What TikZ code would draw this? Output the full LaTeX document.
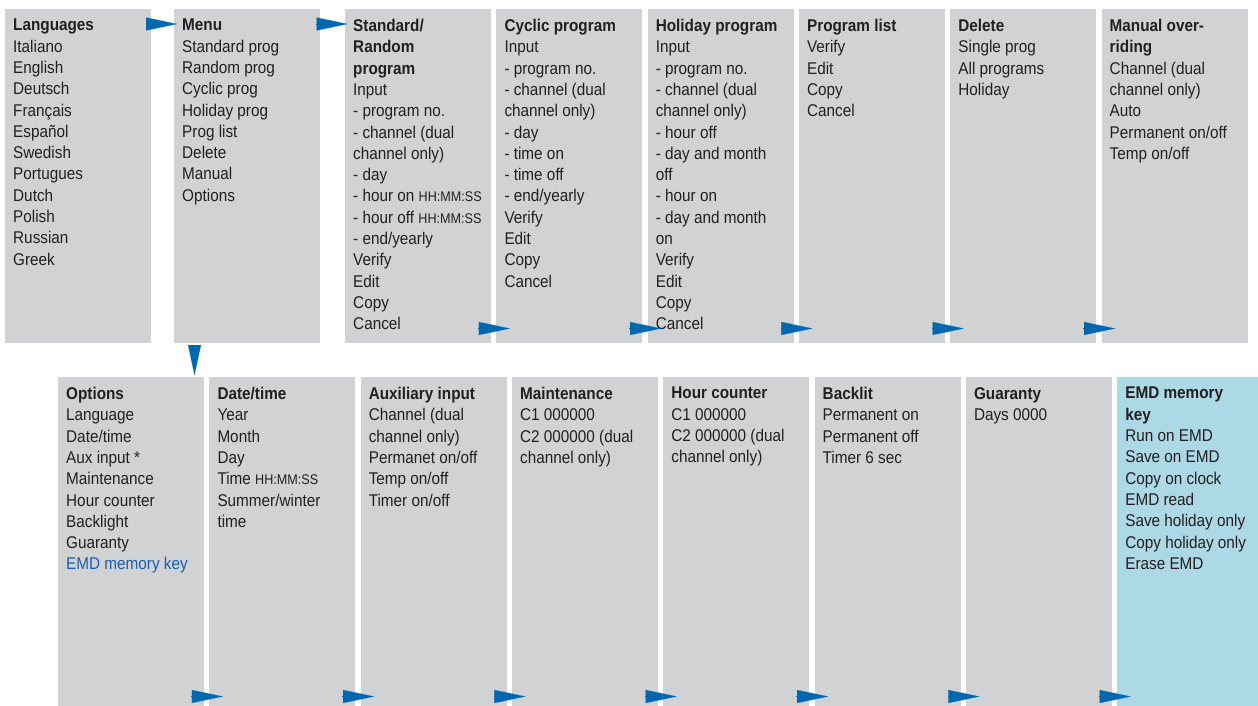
\documentclass[tikz,border=0pt]{standalone}
\usepackage{fontspec}
\setmainfont{Liberation Sans}[FakeStretch=0.9]
\usetikzlibrary{
  arrows.meta,
  positioning
}
\definecolor{ink}{HTML}{231F20}
\definecolor{panel}{HTML}{D1D2D4}
\definecolor{panelblue}{HTML}{ADD8E6}
\definecolor{pointerblue}{HTML}{0068B1}
\definecolor{linkblue}{HTML}{1A5DAD}
\newcommand{\hms}{{\fontsize{14}{21.3}\selectfont HH:MM:SS}}
\tikzset{
  menubox/.style={
    fill=panel,
    minimum width=146pt,
    minimum height=334pt,
    inner sep=0pt,
    outer sep=0pt,
    anchor=north west
  },
  keybox/.style={
    menubox,
    fill=panelblue
  },
  entry/.style={
    anchor=north west,
    inner sep=0pt,
    align=left,
    text=ink,
    font=\fontsize{17}{21.3}\selectfont,
    execute at begin node=\strut
  },
  pointer/.style={
    -{Triangle[length=#1, width=13pt]},
    line width=0.1pt,
    draw=pointerblue
  },
  pointer/.default=31pt
}

\begin{document}
\begin{tikzpicture}[x=1pt, y=-1pt]
  \useasboundingbox (0,0) rectangle (1258,706);
  \clip (0,0) rectangle (1258,706);

  % Main menu row.
  \node[menubox] (langs) at (5,9) {};
  \node[menubox, right=23pt of langs] (menu) {};
  \node[menubox, right=25pt of menu] (std) {};
  \node[menubox, right=5.3pt of std] (cyc) {};
  \node[menubox, right=5.3pt of cyc] (hol) {};
  \node[menubox, right=5.3pt of hol] (plist) {};
  \node[menubox, right=5.3pt of plist] (del) {};
  \node[menubox, right=5.3pt of del] (man) {};

  % Options row.
  \node[menubox] (opts) at (58,377) {};
  \node[menubox, right=5.3pt of opts] (date) {};
  \node[menubox, right=5.3pt of date] (aux) {};
  \node[menubox, right=5.3pt of aux] (maint) {};
  \node[menubox, right=5.3pt of maint] (hours) {};
  \node[menubox, right=5.3pt of hours] (back) {};
  \node[menubox, right=5.3pt of back] (guar) {};
  \node[keybox, right=5.3pt of guar] (emd) {};

  \node[entry] (langs-txt) at ([shift={(8,10)}]langs.north west) {
    \textbf{Languages}\\Italiano\\English\\Deutsch\\Français\\Español\\
    Swedish\\Portugues\\Dutch\\Polish\\Russian\\Greek};
  \node[entry] (menu-txt) at ([shift={(8,10)}]menu.north west) {
    \textbf{Menu}\\Standard prog\\Random prog\\Cyclic prog\\Holiday prog\\
    Prog list\\Delete\\Manual\\Options};
  \node[entry] (std-txt) at ([shift={(8,10)}]std.north west) {
    \textbf{Standard/}\\\textbf{Random}\\\textbf{program}\\Input\\
    - program no.\\- channel (dual\\channel only)\\- day\\
    - hour on \hms\\- hour off \hms\\- end/yearly\\Verify\\Edit\\Copy\\Cancel};
  \node[entry] (cyc-txt) at ([shift={(8,10)}]cyc.north west) {
    \textbf{Cyclic program}\\Input\\- program no.\\- channel (dual\\
    channel only)\\- day\\- time on\\- time off\\- end/yearly\\Verify\\
    Edit\\Copy\\Cancel};
  \node[entry] (hol-txt) at ([shift={(8,10)}]hol.north west) {
    \textbf{Holiday program}\\Input\\- program no.\\- channel (dual\\
    channel only)\\- hour off\\- day and month\\off\\- hour on\\
    - day and month\\on\\Verify\\Edit\\Copy\\Cancel};
  \node[entry] (plist-txt) at ([shift={(8,10)}]plist.north west) {
    \textbf{Program list}\\Verify\\Edit\\Copy\\Cancel};
  \node[entry] (del-txt) at ([shift={(8,10)}]del.north west) {
    \textbf{Delete}\\Single prog\\All programs\\Holiday};
  \node[entry] (man-txt) at ([shift={(8,10)}]man.north west) {
    \textbf{Manual over-}\\\textbf{riding}\\Channel (dual\\channel only)\\
    Auto\\Permanent on/off\\Temp on/off};

  \node[entry] (opts-txt) at ([shift={(8,10)}]opts.north west) {
    \textbf{Options}\\Language\\Date/time\\Aux input *\\Maintenance\\
    Hour counter\\Backlight\\Guaranty\\\textcolor{linkblue}{EMD memory key}};
  \node[entry] (date-txt) at ([shift={(8,10)}]date.north west) {
    \textbf{Date/time}\\Year\\Month\\Day\\Time \hms\\Summer/winter\\time};
  \node[entry] (aux-txt) at ([shift={(8,10)}]aux.north west) {
    \textbf{Auxiliary input}\\Channel (dual\\channel only)\\
    Permanet on/off\\Temp on/off\\Timer on/off};
  \node[entry] (maint-txt) at ([shift={(8,10)}]maint.north west) {
    \textbf{Maintenance}\\C1 000000\\C2 000000 (dual\\channel only)};
  \node[entry] (hours-txt) at ([shift={(8,10)}]hours.north west) {
    \textbf{Hour counter}\\C1 000000\\C2 000000 (dual\\channel only)};
  \node[entry] (back-txt) at ([shift={(8,10)}]back.north west) {
    \textbf{Backlit}\\Permanent on\\Permanent off\\Timer 6 sec};
  \node[entry] (guar-txt) at ([shift={(8,10)}]guar.north west) {
    \textbf{Guaranty}\\Days 0000};
  \node[entry] (emd-txt) at ([shift={(8,10)}]emd.north west) {
    \textbf{EMD memory}\\\textbf{key}\\Run on EMD\\Save on EMD\\
    Copy on clock\\EMD read\\Save holiday only\\Copy holiday only\\Erase EMD};

  % Pointers.
  \draw[pointer] ([shift={(-5,15)}]langs.north east) --
    ([shift={(3,15)}]menu.north west);
  \draw[pointer] ([shift={(-4,15)}]menu.north east) --
    ([shift={(2.5,15)}]std.north west);
  \coordinate (drop) at ([shift={(20.5,2)}]menu.south west);
  \draw[pointer=30pt, shorten >=2pt] (drop) -- (drop |- opts.north);
  \foreach \a/\b in {std/cyc, cyc/hol, hol/plist, plist/del, del/man,
    opts/date, date/aux, aux/maint, maint/hours, hours/back, back/guar,
    guar/emd}
    \draw[pointer] ([shift={(-13,-14.5)}]\a.south east) --
      ([shift={(13.5,-14.5)}]\b.south west);
\end{tikzpicture}
\end{document}
